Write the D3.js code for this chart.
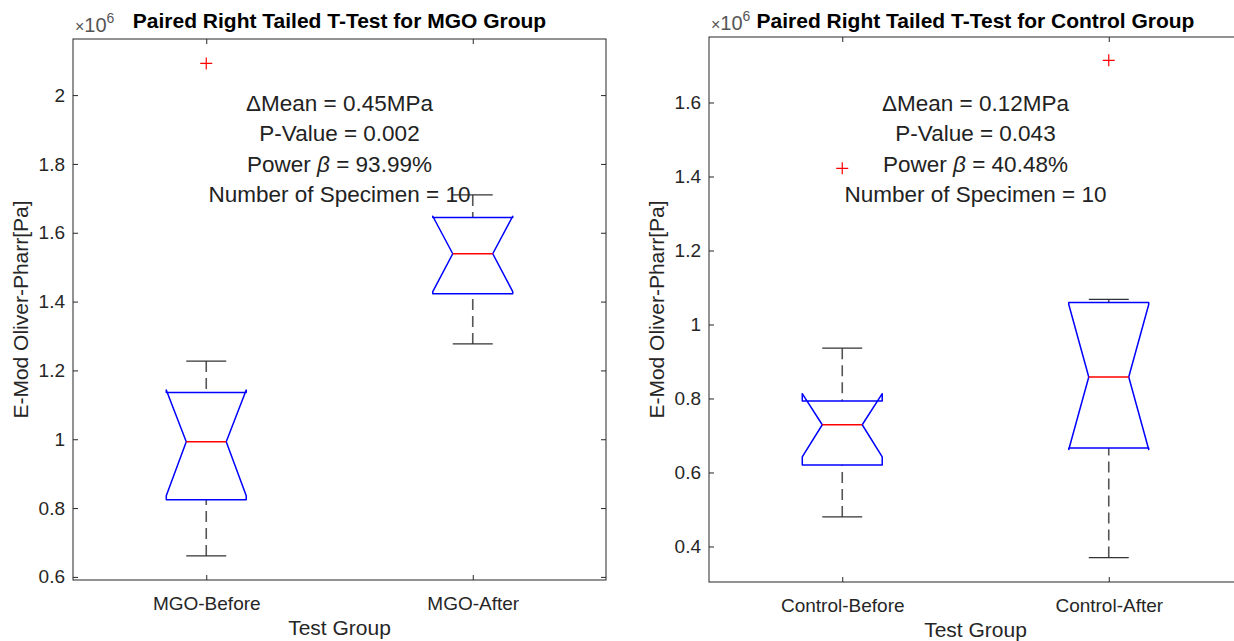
<!DOCTYPE html>
<html>
<head>
<meta charset="utf-8">
<script src="https://cdn.jsdelivr.net/npm/d3@7"></script>
<style>
  body { margin: 0; background: #fff; }
  svg { display: block; font-family: "Liberation Sans", Arial, Helvetica, sans-serif; }
</style>
</head>
<body>
<svg id="chart" width="1234" height="641"></svg>
<script>
// ---- MGO group (values in units of 1e6 Pa) ----
const mgoGroups = ["MGO-Before", "MGO-After"];
const mgoLowerWhisker = [0.661, 1.277];
const mgoQ1 = [0.824, 1.423];
const mgoMedian = [0.993, 1.539];
const mgoQ3 = [1.136, 1.644];
const mgoUpperWhisker = [1.227, 1.710];
const mgoNotchLow = [0.836, 1.429];
const mgoNotchHigh = [1.143, 1.648];
const mgoOutliers = [[2.092], []];
const mgoYTicks = [0.6, 0.8, 1, 1.2, 1.4, 1.6, 1.8, 2];
const mgoYLimits = [0.591, 2.163];
const mgoNotes = ["ΔMean = 0.45MPa", "P-Value = 0.002", "Power β = 93.99%", "Number of Specimen = 10"];

// ---- Control group (values in units of 1e6 Pa) ----
const ctrlGroups = ["Control-Before", "Control-After"];
const ctrlLowerWhisker = [0.480, 0.370];
const ctrlQ1 = [0.620, 0.666];
const ctrlMedian = [0.729, 0.858];
const ctrlQ3 = [0.793, 1.0595];
const ctrlUpperWhisker = [0.936, 1.068];
const ctrlNotchLow = [0.642, 0.662];
const ctrlNotchHigh = [0.813, 1.054];
const ctrlOutliers = [[1.422], [1.714]];
const ctrlYTicks = [0.4, 0.6, 0.8, 1, 1.2, 1.4, 1.6];
const ctrlYLimits = [0.304, 1.777];
const ctrlNotes = ["ΔMean = 0.12MPa", "P-Value = 0.043", "Power β = 40.48%", "Number of Specimen = 10"];

const xLabel = "Test Group";
const yLabel = "E-Mod Oliver-Pharr[Pa]";

const AXIS_COLOR = "#262626";
const svg = d3.select("#chart");

function buildStats(groups, lw, q1, med, q3, uw, nlo, nhi, out) {
  return groups.map((g, i) => ({
    group: g, lw: lw[i], q1: q1[i], med: med[i], q3: q3[i], uw: uw[i],
    nlo: nlo[i], nhi: nhi[i], outliers: out[i]
  }));
}

function drawPanel(p) {
  const x = d3.scalePoint().domain(p.stats.map(d => d.group)).range([p.x0, p.x1]).padding(0.5);
  const y = d3.scaleLinear().domain(p.yLimits).range([p.y1, p.y0]);
  const g = svg.append("g");
  const fmt = d3.format("~g");

  // frame
  g.append("rect")
    .attr("x", p.x0).attr("y", p.y0)
    .attr("width", p.x1 - p.x0).attr("height", p.y1 - p.y0)
    .attr("fill", "none").attr("stroke", AXIS_COLOR).attr("stroke-width", 1);

  // inward ticks on all four sides
  const styleAxis = sel => {
    sel.select(".domain").remove();
    sel.selectAll(".tick line").attr("stroke", AXIS_COLOR);
    sel.selectAll(".tick text").attr("fill", AXIS_COLOR).attr("font-size", 19);
  };
  g.append("g").attr("transform", `translate(${p.x0},0)`)
    .call(d3.axisLeft(y).tickValues(p.yTicks).tickSize(-5).tickPadding(8).tickFormat(fmt))
    .call(styleAxis);
  g.append("g").attr("transform", `translate(${p.x1},0)`)
    .call(d3.axisRight(y).tickValues(p.yTicks).tickSize(-5).tickFormat(""))
    .call(styleAxis);
  g.append("g").attr("transform", `translate(0,${p.y0})`)
    .call(d3.axisTop(x).tickSize(-5).tickFormat(""))
    .call(styleAxis);
  g.append("g").attr("transform", `translate(0,${p.y1})`)
    .call(d3.axisBottom(x).tickSize(-5))
    .call(styleAxis)
    .call(s => s.selectAll(".tick text").attr("y", 29.5).attr("dy", null));

  // exponent marker
  const ex = g.append("text").attr("x", p.x0 + 2).attr("y", p.y0 - 7)
    .attr("fill", "#555").attr("font-size", 20);
  ex.append("tspan").attr("font-size", 16).text("×");
  ex.append("tspan").text("10");
  ex.append("tspan").attr("font-size", 14).attr("dy", -9).text("6");

  // title
  g.append("text").attr("x", (p.x0 + p.x1) / 2).attr("y", 27.5)
    .attr("text-anchor", "middle").attr("font-weight", "bold")
    .attr("font-size", 21).attr("fill", "#000").text(p.title);

  // axis labels
  g.append("text").attr("x", (p.x0 + p.x1) / 2).attr("y", p.y1 + 55)
    .attr("text-anchor", "middle").attr("font-size", 21).attr("fill", AXIS_COLOR).text(xLabel);
  g.append("text")
    .attr("transform", `translate(${p.x0 - 52},${(p.y0 + p.y1) / 2}) rotate(-90)`)
    .attr("text-anchor", "middle").attr("dy", "0.35em")
    .attr("font-size", 21).attr("fill", AXIS_COLOR).text(yLabel);

  // statistics notes
  const cx = (p.x0 + p.x1) / 2;
  p.notes.forEach((line, i) => {
    const t = g.append("text").attr("x", cx).attr("y", 111 + i * 30.3)
      .attr("text-anchor", "middle").attr("font-size", 22.5).attr("fill", "#222");
    const parts = line.split("β");
    parts.forEach((part, k) => {
      t.append("tspan").text(part);
      if (k < parts.length - 1) t.append("tspan").attr("font-style", "italic").text("β");
    });
  });

  // boxes
  const step = x.step();
  const half = 0.15 * step;     // box half-width
  const inner = half / 2;       // notch / cap half-width
  const boxes = g.selectAll(".box").data(p.stats).join("g").attr("class", "box");

  // whiskers
  boxes.append("line")
    .attr("x1", d => x(d.group)).attr("x2", d => x(d.group))
    .attr("y1", d => y(d.uw)).attr("y2", d => y(d.q3))
    .attr("stroke", "#555").attr("stroke-width", 1.6).attr("stroke-dasharray", "11,6");
  boxes.append("line")
    .attr("x1", d => x(d.group)).attr("x2", d => x(d.group))
    .attr("y1", d => y(d.lw)).attr("y2", d => y(d.q1))
    .attr("stroke", "#555").attr("stroke-width", 1.6).attr("stroke-dasharray", "11,6");
  // caps
  ["uw", "lw"].forEach(k => {
    boxes.append("line")
      .attr("x1", d => x(d.group) - inner).attr("x2", d => x(d.group) + inner)
      .attr("y1", d => y(d[k])).attr("y2", d => y(d[k]))
      .attr("stroke", "#333").attr("stroke-width", 1.3);
  });

  // notched box outline
  boxes.append("path")
    .attr("d", d => {
      const c = x(d.group);
      return d3.line()([
        [c - half, y(d.q1)], [c - half, y(d.nlo)], [c - inner, y(d.med)],
        [c - half, y(d.nhi)], [c - half, y(d.q3)], [c + half, y(d.q3)],
        [c + half, y(d.nhi)], [c + inner, y(d.med)], [c + half, y(d.nlo)],
        [c + half, y(d.q1)]
      ]) + "Z";
    })
    .attr("fill", "none").attr("stroke", "#0000ff").attr("stroke-width", 1.5)
    .attr("stroke-linejoin", "round");

  // median
  boxes.append("line")
    .attr("x1", d => x(d.group) - inner).attr("x2", d => x(d.group) + inner)
    .attr("y1", d => y(d.med)).attr("y2", d => y(d.med))
    .attr("stroke", "#ff0000").attr("stroke-width", 1.5);

  // outliers
  boxes.selectAll(".outlier").data(d => d.outliers.map(v => ({ group: d.group, v })))
    .join("path").attr("class", "outlier")
    .attr("d", d => {
      const c = x(d.group), yy = y(d.v), s = 6;
      return `M${c - s},${yy}H${c + s}M${c},${yy - s}V${yy + s}`;
    })
    .attr("stroke", "#ff0000").attr("stroke-width", 1.2).attr("fill", "none");
}

drawPanel({
  x0: 73, x1: 606, y0: 39, y1: 580,
  yLimits: mgoYLimits, yTicks: mgoYTicks,
  title: "Paired Right Tailed T-Test for MGO Group",
  notes: mgoNotes,
  stats: buildStats(mgoGroups, mgoLowerWhisker, mgoQ1, mgoMedian, mgoQ3,
                    mgoUpperWhisker, mgoNotchLow, mgoNotchHigh, mgoOutliers)
});

drawPanel({
  x0: 709, x1: 1242, y0: 37, y1: 582,
  yLimits: ctrlYLimits, yTicks: ctrlYTicks,
  title: "Paired Right Tailed T-Test for Control Group",
  notes: ctrlNotes,
  stats: buildStats(ctrlGroups, ctrlLowerWhisker, ctrlQ1, ctrlMedian, ctrlQ3,
                    ctrlUpperWhisker, ctrlNotchLow, ctrlNotchHigh, ctrlOutliers)
});
</script>
</body>
</html>
